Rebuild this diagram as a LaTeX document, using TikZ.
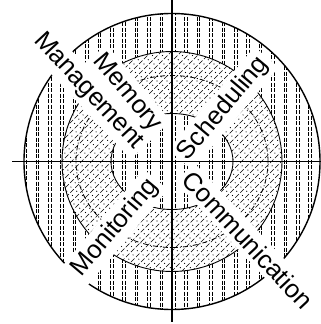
\documentclass[tikz,border=0pt]{standalone}
\usepackage{fontspec}
\setmainfont{Liberation Sans}
\tikzset{
  chain/.style={line width=0.85pt, dash pattern=on 4pt off 1.5pt},
  hatchline/.style={line width=0.55pt, dash pattern=on 5pt off 2pt},
  hatchdot/.style={line width=1.2pt, line cap=round, dash pattern=on 0pt off 6pt},
  rim/.style={line width=1.4pt},
  ringline/.style={line width=0.9pt},
  dashdotline/.style={line width=0.8pt, dash pattern=on 5pt off 2pt on 1pt off 2pt},
  lbl/.style={fill=white, inner sep=4pt, font=\fontsize{25.5}{30}\selectfont},
  axis/.style={line width=1.5pt}
}
\begin{document}
\begin{tikzpicture}[x=1pt,y=-1pt]
\useasboundingbox (0,0) rectangle (321,324);
\coordinate (O) at (172,161.5);
% outer ring vertical chain pattern
\begin{scope}
  \clip (O) circle[radius=148pt];
  \foreach \i in {0,...,24} {
    \draw[chain] ({25+12.4*\i-1.3},0) -- ++(0,324);
    \draw[chain] ({25+12.4*\i+1.3},0) -- ++(0,324);
  }
\end{scope}
% middle hatched ring
\fill[white] (O) circle[radius=110pt];
\begin{scope}
  \clip (O) circle[radius=110pt];
  \foreach \i in {-40,...,40} {
    \draw[hatchline] ({172+10*\i-200},361) -- ++(400,-400);
    \draw[hatchdot] ({172+10*\i-195},361) -- ++(400,-400);
  }
\end{scope}
% inner vertical region
\fill[white] (O) ellipse[x radius=61pt, y radius=48pt];
\begin{scope}
  \clip (O) ellipse[x radius=61pt, y radius=48pt];
  \foreach \i in {0,...,24} {
    \draw[chain] ({25+12.4*\i-1.3},0) -- ++(0,324);
    \draw[chain] ({25+12.4*\i+1.3},0) -- ++(0,324);
  }
\end{scope}
\draw[dashdotline] (O) ellipse[x radius=96pt, y radius=86pt];
\draw[rim] (O) circle[radius=148pt];
\draw[ringline] (O) circle[radius=110pt];
\draw[ringline] (O) ellipse[x radius=61pt, y radius=48pt];
% labels
\node[lbl, rotate=-47] (mgmt) at (88.4,91.3) {Management};
\node[lbl, rotate=-50] (mem) at (127,93) {Memory};
\node[lbl, rotate=50] (sch) at (223.5,108.5) {Scheduling};
\node[lbl, rotate=-47] (com) at (248,240) {Communication};
\node[lbl, rotate=50] (mon) at (115,228) {Monitoring};
% axes
\coordinate (L) at (12,161.5);
\coordinate (R) at (321,161.5);
\coordinate (T) at (172,0);
\coordinate (B) at (172,322);
\draw[axis] (L) -- (R);
\draw[axis] (T) -- (B);
\end{tikzpicture}
\end{document}
